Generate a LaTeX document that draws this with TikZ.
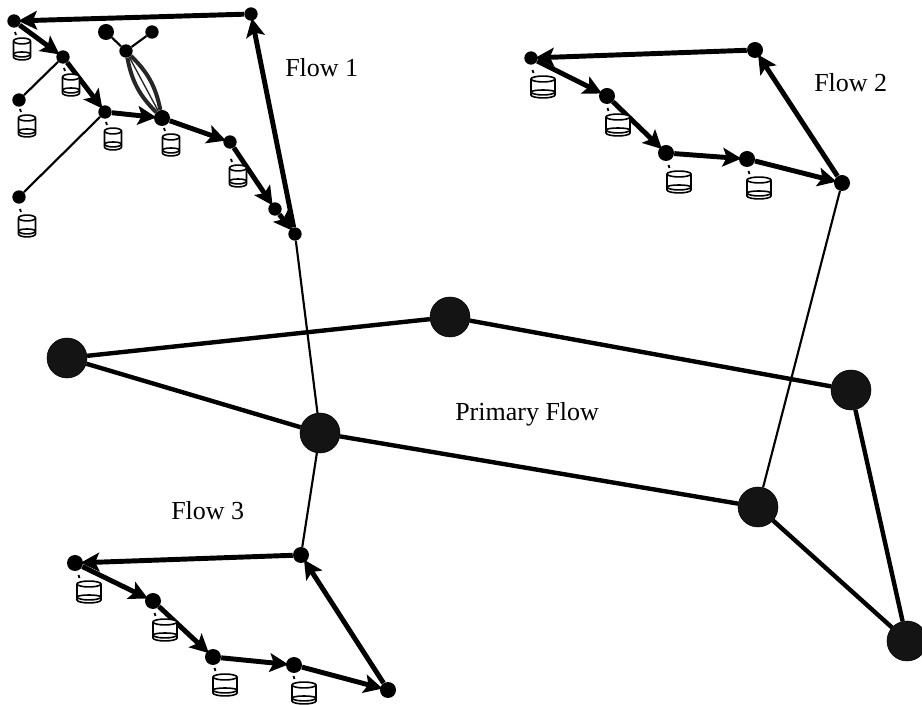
\documentclass[tikz,border=0pt]{standalone}
\usepackage{fontspec}
\setmainfont{Liberation Serif}
\usetikzlibrary{arrows.meta}
\tikzset{
  x=0.75pt,y=-0.75pt,
  big/.style={circle,fill=black!92,draw=black,inner sep=0pt,minimum size=30pt},
  mid/.style={circle,fill=black,inner sep=0pt,minimum size=12pt},
  small/.style={circle,fill=black,inner sep=0pt,minimum size=10pt},
  lab/.style={font=\fontsize{19.5}{21}\selectfont,inner sep=0pt},
  prim/.style={line width=3.3pt},
  flow/.style={line width=3.7pt,-{Stealth[length=14pt,width=14pt,inset=3pt]},shorten >=-2pt},
  link/.style={line width=1.6pt},
  tree/.style={line width=1.6pt},
  lens/.style={line width=3pt,black!85},
  tickmark/.style={line width=1.4pt},
  pics/dbcyl/.style 2 args={code={
    \def\rr{#1*0.75pt}
    \draw[line width=1.2pt,fill=white] (-#1,-#2+3) -- (-#1,#2-3) arc[start angle=180,end angle=360,x radius=\rr,y radius=2.2pt]
      -- (#1,-#2+3) arc[start angle=0,end angle=180,x radius=\rr,y radius=2.2pt] -- cycle;
    \draw[line width=1.2pt] (-#1,-#2+3) arc[start angle=180,end angle=360,x radius=\rr,y radius=2.2pt];
    \draw[line width=1.2pt] (-#1,#2-6) arc[start angle=180,end angle=360,x radius=\rr,y radius=2.2pt];
    \draw[line width=1.2pt] (-#1,#2-6) arc[start angle=180,end angle=0,x radius=\rr,y radius=1.5pt];
    \draw[tickmark] (-#1+1.5,-#2-6) -- (-#1+2.5,-#2-3);
  }}
}
\begin{document}
\begin{tikzpicture}
\useasboundingbox (0,0) rectangle (922,705);
% primary flow
\node[big] (p1) at (67,358) {};
\node[big] (p2) at (450,317) {};
\node[big] (p3) at (851,390) {};
\node[big] (p4) at (320,433) {};
\node[big] (p5) at (758,507) {};
\node[big] (p6) at (907,641) {};
% flow 1
\node[small] (a1) at (14,21) {};
\node[small] (at) at (251,14) {};
\node[small] (a2) at (63,57) {};
\node[small] (a3) at (105,112) {};
\node[mid] (a4) at (162,118) {};
\node[small] (a5) at (230,142) {};
\node[small] (a6) at (275,209) {};
\node[small] (a7) at (295,234) {};
\node[small] (s1) at (19,100) {};
\node[small] (s2) at (19,197) {};
\node[small] (b) at (126,51) {};
\node[mid] (b1) at (106,32) {};
\node[small] (b2) at (152,32) {};
% flow 2
\node[small] (c1) at (531,58) {};
\node[mid] (ct) at (755,50) {};
\node[mid] (c2) at (607,96) {};
\node[mid] (c3) at (666,153) {};
\node[mid] (c4) at (747,159) {};
\node[mid] (c5) at (842,183) {};
% flow 3
\node[mid] (d1) at (75,563) {};
\node[mid] (dt) at (301,555) {};
\node[mid] (d2) at (153,601) {};
\node[mid] (d3) at (213,657) {};
\node[mid] (d4) at (294,665) {};
\node[mid] (d5) at (388,690) {};
% labels
\node[lab,anchor=west] (t1) at (285,68) {Flow 1};
\node[lab,anchor=west] (t2) at (814,83) {Flow 2};
\node[lab,anchor=west] (t3) at (171,511) {Flow 3};
\node[lab,anchor=west] (t4) at (455,414) {Primary Flow};
% primary connectors
\draw[prim] (p1) -- (p2);
\draw[prim] (p2) -- (p3);
\draw[prim] (p1) -- (p4);
\draw[prim] (p4) -- (p5);
\draw[prim] (p5) -- (p6);
\draw[prim] (p3) -- (p6);
% thin links between flows
\draw[link] (a7) -- (p4);
\draw[link] (p4) -- (dt);
\draw[link] (c5) -- (p5);
% flow 1
\draw[flow] (a1) -- (a2);
\draw[flow] (a2) -- (a3);
\draw[flow] (a3) -- (a4);
\draw[flow] (a4) -- (a5);
\draw[flow] (a5) -- (a6);
\draw[flow] (a6) -- (a7);
\draw[flow] (a7) -- (at);
\draw[flow] (at) -- (a1);
\draw[tree] (s1) -- (a2);
\draw[tree] (s2) -- (a3);
\draw[tree] (b1) -- (b);
\draw[tree] (b2) -- (b);
\draw[lens] (b) to[bend right=17] (a4);
\draw[lens] (b) to[bend left=17] (a4);
\draw[lens,line width=1pt] (b) -- (a4);
% flow 2
\draw[flow] (c1) -- (c2);
\draw[flow] (c2) -- (c3);
\draw[flow] (c3) -- (c4);
\draw[flow] (c4) -- (c5);
\draw[flow] (c5) -- (ct);
\draw[flow] (ct) -- (c1);
% flow 3
\draw[flow] (d1) -- (d2);
\draw[flow] (d2) -- (d3);
\draw[flow] (d3) -- (d4);
\draw[flow] (d4) -- (d5);
\draw[flow] (d5) -- (dt);
\draw[flow] (dt) -- (d1);
% data stores
\foreach \px/\py in {22/49,71/85,27/126,113/139,171/145,238/176,27/226}
  \pic at (\px,\py) {dbcyl={8.5}{11}};
\foreach \px/\py in {543/87,618/125,679/182,759/188,89/592,165/630,225/685,304/693}
  \pic at (\px,\py) {dbcyl={12}{11}};
\end{tikzpicture}
\end{document}
